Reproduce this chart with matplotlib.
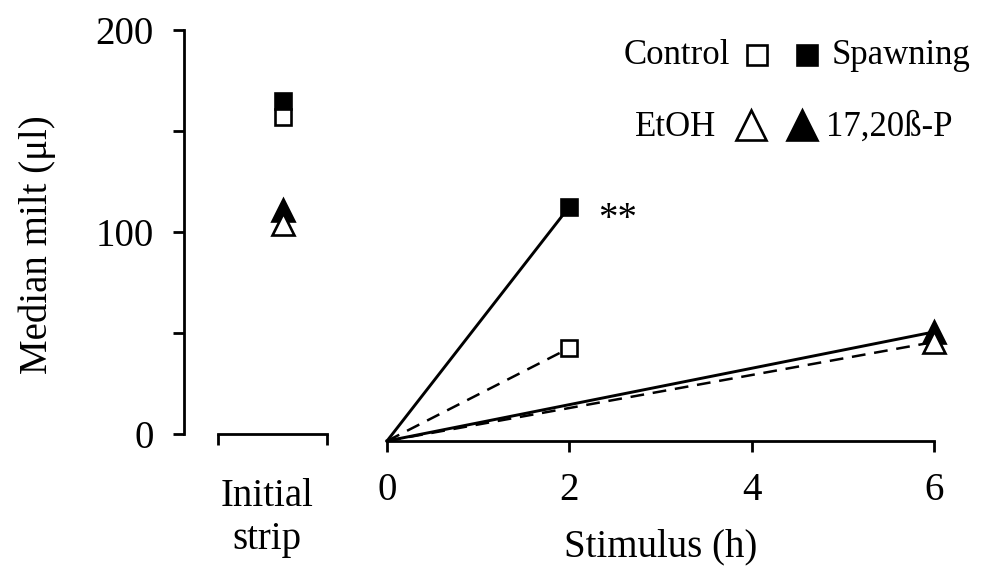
import matplotlib
matplotlib.use("Agg")
import matplotlib.pyplot as plt
from matplotlib.lines import Line2D

plt.rcParams['font.family'] = ['Liberation Serif', 'DejaVu Serif']
plt.rcParams['font.size'] = 28

# median milt volume at the initial strip
initial_groups = ['Spawning', 'Control', '17,20ß-P', 'EtOH']
initial_milt = [165, 157, 111, 104]

# milt after stimulus, starting from zero at time 0
spawning_h = [0, 2]
spawning_milt = [0, 116]
control_h = [0, 2]
control_milt = [0, 46]
steroid_h = [0, 6]
steroid_milt = [0, 54]
etoh_h = [0, 6]
etoh_milt = [0, 49]

y_ticks = [0, 50, 100, 150, 200]
y_labels = ['0', '', '100', '', '200']
x_ticks = [0, 2, 4, 6]

W, H = 982, 571
fig = plt.figure(figsize=(W / 100, H / 100), dpi=100)

lw = 2.0
msq = 12
mtri = 16
mew = 1.9

# left panel: initial strip
ax1 = fig.add_axes([184 / W, (H - 434) / H, 161 / W, 404 / H])
ax1.set_xlim(0, 1)
ax1.set_ylim(0, 200)
for s in ['top', 'right']:
    ax1.spines[s].set_visible(False)
ax1.spines['left'].set_linewidth(lw)
ax1.spines['bottom'].set_linewidth(lw)
ax1.spines['bottom'].set_bounds(0.211, 0.888)
ax1.set_xticks([0.211, 0.888])
ax1.set_xticklabels(['', ''])
ax1.set_yticks(y_ticks)
ax1.set_yticklabels(y_labels)
ax1.tick_params(axis='both', direction='out', length=8, width=lw)
ax1.tick_params(axis='y', pad=14)

xpos = 0.615
styles = {
    'Spawning': dict(marker='s', ms=msq, mfc='black', mec='black', zorder=3),
    'Control': dict(marker='s', ms=msq, mfc='white', mec='black', zorder=4),
    '17,20ß-P': dict(marker='^', ms=mtri, mfc='black', mec='black', zorder=3),
    'EtOH': dict(marker='^', ms=mtri, mfc='white', mec='black', zorder=4),
}
for g, v in zip(initial_groups, initial_milt):
    ax1.plot([xpos], [v], ls='none', mew=mew, clip_on=False, **styles[g])

fig.text(267 / W, 1 - 518 / H, 'Initial\nstrip', ha='center', va='center',
         linespacing=1.25, fontsize=28)
fig.text(37 / W, 1 - 245 / H, 'Median milt (μl)', rotation=90,
         ha='center', va='center', fontsize=28)

# right panel: after stimulus
ax2 = fig.add_axes([387 / W, (H - 441) / H, 547 / W, 404 / H])
ax2.set_xlim(0, 6)
ax2.set_ylim(0, 200)
for s in ['top', 'right', 'left']:
    ax2.spines[s].set_visible(False)
ax2.spines['bottom'].set_linewidth(lw)
ax2.set_yticks([])
ax2.set_xticks(x_ticks)
ax2.tick_params(axis='x', direction='out', length=8, width=lw, pad=14)
ax2.set_xlabel('Stimulus (h)', labelpad=14)

dash = (0, (5.5, 3.5))
ax2.plot(spawning_h, spawning_milt, color='black', lw=2.1, clip_on=False)
ax2.plot(control_h, control_milt, color='black', lw=1.8, ls=dash, clip_on=False)
ax2.plot(steroid_h, steroid_milt, color='black', lw=2.1, clip_on=False)
ax2.plot(etoh_h, etoh_milt, color='black', lw=1.8, ls=dash, clip_on=False)

ax2.plot(spawning_h[-1:], spawning_milt[-1:], ls='none', mew=mew, clip_on=False, **styles['Spawning'])
ax2.plot(control_h[-1:], control_milt[-1:], ls='none', mew=mew, clip_on=False, **styles['Control'])
ax2.plot(steroid_h[-1:], steroid_milt[-1:], ls='none', mew=mew, clip_on=False, **styles['17,20ß-P'])
ax2.plot(etoh_h[-1:], etoh_milt[-1:], ls='none', mew=mew, clip_on=False, **styles['EtOH'])

ax2.annotate('**', xy=(spawning_h[-1], spawning_milt[-1]), xytext=(21, -16),
             textcoords='offset points', ha='left', va='baseline', fontsize=28)

# key in the upper right corner
def key_marker(px, py, **kw):
    fig.add_artist(Line2D([px / W], [1 - py / H], transform=fig.transFigure,
                          ls='none', mew=mew, **kw))

fig.text(730 / W, 1 - 55 / H, 'Control', ha='right', va='center', fontsize=25)
key_marker(757, 55, marker='s', ms=14, mfc='white', mec='black')
key_marker(807, 55, marker='s', ms=14, mfc='black', mec='black')
fig.text(832 / W, 1 - 55 / H, 'Spawning', ha='left', va='center', fontsize=25)

fig.text(716 / W, 1 - 127 / H, 'EtOH', ha='right', va='center', fontsize=25)
key_marker(751, 125, marker='^', ms=21, mfc='white', mec='black')
key_marker(802, 125, marker='^', ms=21, mfc='black', mec='black')
fig.text(826 / W, 1 - 127 / H, '17,20ß-P', ha='left', va='center', fontsize=25)

fig.savefig('out.png', dpi=100)
